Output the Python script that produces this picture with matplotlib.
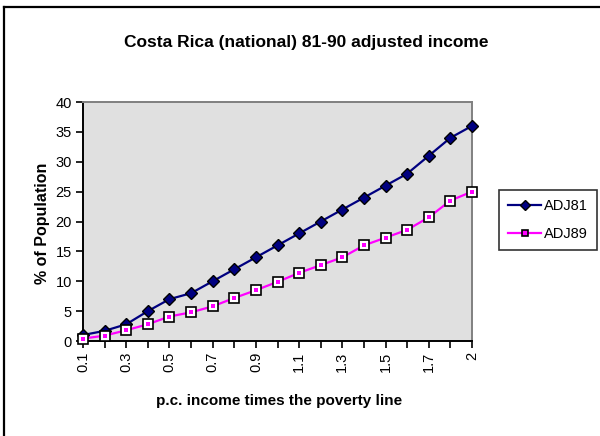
import matplotlib
matplotlib.use("Agg")
import matplotlib.pyplot as plt
from matplotlib.lines import Line2D

plt.rcParams['font.family'] = ['Liberation Sans', 'DejaVu Sans']

# income multiples of the poverty line (category labels)
categories = ['0.1', '0.2', '0.3', '0.4', '0.5', '0.6', '0.7', '0.8', '0.9', '1',
              '1.1', '1.2', '1.3', '1.4', '1.5', '1.6', '1.7', '1.8', '2']
adj81 = [1.0, 1.7, 2.8, 5.0, 7.0, 8.0, 10.0, 12.0, 14.0, 16.0,
         18.0, 20.0, 22.0, 24.0, 26.0, 28.0, 31.0, 34.0, 36.0]
adj89 = [0.4, 0.9, 1.8, 2.8, 4.1, 4.8, 5.8, 7.2, 8.5, 9.9,
         11.4, 12.7, 14.0, 16.0, 17.3, 18.6, 20.7, 23.5, 25.0]
y_ticks = [0, 5, 10, 15, 20, 25, 30, 35, 40]


def main():
    fig = plt.figure(figsize=(6.0, 4.36), dpi=100)
    W, H = 600, 436
    ax = fig.add_axes([83 / W, 1 - 341 / H, (472 - 83) / W, (341 - 102) / H])
    ax.set_facecolor('#E0E0E0')

    x = list(range(len(categories)))
    ax.plot(x, adj81, color='#000080', lw=1.6, marker='D', ms=6.5,
            mfc='#000080', mec='black', mew=1.0, clip_on=False, zorder=3)
    ax.plot(x, adj89, color='#FF00FF', lw=1.6, marker='s', ms=6.5,
            mfc='white', mec='black', mew=1.2, clip_on=False, zorder=3)
    ax.plot(x, adj89, ls='none', marker='s', ms=2.8, mfc='#FF00FF',
            mec='#FF00FF', mew=0, clip_on=False, zorder=4)

    ax.set_xlim(0, len(categories) - 1)
    ax.set_ylim(0, 40)
    ax.set_yticks(y_ticks)
    ax.set_yticklabels([str(v) for v in y_ticks], fontsize=10.5)
    ax.set_xticks(x)
    xl = [lab if (i % 2 == 0) else '' for i, lab in enumerate(categories)]
    ax.set_xticklabels(xl, rotation=90, fontsize=10.5)

    ax.tick_params(axis='both', direction='out', length=5, width=1.2,
                   color='black', pad=3)
    for s in ['left', 'bottom']:
        ax.spines[s].set_color('black')
        ax.spines[s].set_linewidth(1.4)
    for s in ['top', 'right']:
        ax.spines[s].set_color('#808080')
        ax.spines[s].set_linewidth(1.4)

    fig.text(306 / W, 1 - 43 / H, 'Costa Rica (national) 81-90 adjusted income',
             ha='center', va='center', fontsize=12.5, fontweight='bold')
    fig.text(279 / W, 1 - 401 / H, 'p.c. income times the poverty line',
             ha='center', va='center', fontsize=11, fontweight='bold')
    fig.text(43 / W, 1 - 223 / H, '% of Population', ha='center', va='center',
             rotation=90, fontsize=11.5, fontweight='bold')

    h81 = Line2D([], [], color='#000080', lw=1.6, marker='D', ms=5,
                 mfc='#000080', mec='black')
    h89 = Line2D([], [], color='#FF00FF', lw=1.6, marker='s', ms=5,
                 mfc='#FF00FF', mec='black', mew=1.2)
    leg = fig.legend([h81, h89], ['ADJ81', 'ADJ89'], loc='upper left',
                     bbox_to_anchor=(499 / W, 1 - 190 / H), borderaxespad=0,
                     fontsize=10.5, frameon=True, fancybox=False,
                     handlelength=2.3, borderpad=0.6, labelspacing=1.0,
                     handletextpad=0.2)
    leg.get_frame().set_edgecolor('black')
    leg.get_frame().set_linewidth(1.2)

    # outer chart border (only top and left visible)
    fig.add_artist(Line2D([4 / W, 1], [1 - 7 / H, 1 - 7 / H], color='black', lw=1.6))
    fig.add_artist(Line2D([4 / W, 4 / W], [0, 1 - 7 / H], color='black', lw=1.6))

    fig.savefig('out.png', dpi=100)


if __name__ == "__main__":
    main()
